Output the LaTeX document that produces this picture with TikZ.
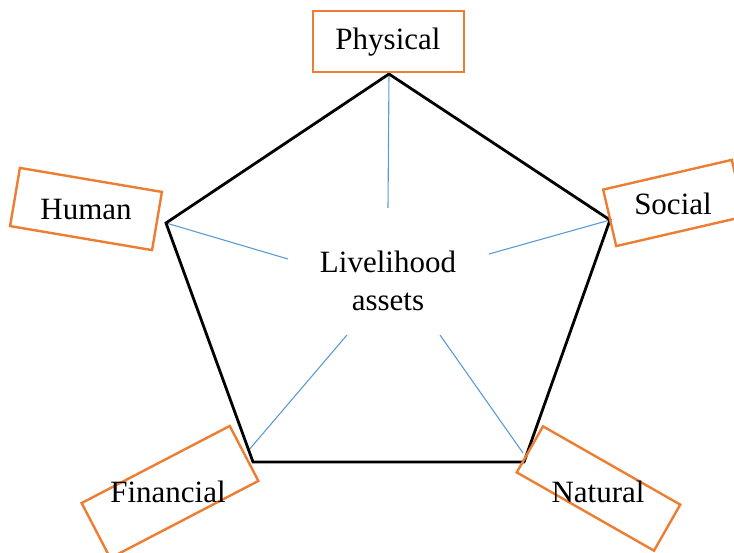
\documentclass[tikz,border=0pt]{standalone}
\usepackage{fontspec}
\setmainfont{Liberation Serif}
\definecolor{boxorange}{HTML}{ED7D31}
\definecolor{spokeblue}{HTML}{5B9BD5}
\tikzset{
  assetbox/.style={draw=boxorange,line width=2.4pt,inner sep=0pt},
  assettext/.style={font=\fontsize{31}{38}\selectfont,inner sep=0pt},
  spoke/.style={spokeblue,line width=1.1pt},
  pentagon/.style={black,line width=2.8pt,line join=miter}
}
\begin{document}
\begin{tikzpicture}[x=1pt,y=-1pt]
  \useasboundingbox (0,0) rectangle (734,553);
  % corners of the pentagon
  \coordinate (top) at (389,74);
  \coordinate (right) at (610,220);
  \coordinate (lowright) at (524,462);
  \coordinate (lowleft) at (253,462);
  \coordinate (left) at (166,223);
  % spokes towards the centre
  \coordinate (topin) at (388,208);
  \coordinate (rightin) at (489,254);
  \coordinate (lowrightout) at (523,453);
  \coordinate (lowrightin) at (440,335);
  \coordinate (lowleftout) at (248,451);
  \coordinate (lowleftin) at (347,335);
  \coordinate (leftin) at (288,259);
  \draw [spoke] (top) -- (topin);
  \draw [spoke] (right) -- (rightin);
  \draw [spoke] (lowrightout) -- (lowrightin);
  \draw [spoke] (lowleftout) -- (lowleftin);
  \draw [spoke] (left) -- (leftin);
  \draw [pentagon] (top) -- (right) -- (lowright) -- (lowleft) -- (left) -- cycle;
  % boxes round the asset names
  \node [assetbox,minimum width=151pt,minimum height=61pt] (physbox) at (388.5,41.5) {};
  \node [assetbox,minimum width=144pt,minimum height=59pt,rotate=-9.6] (humanbox) at (86,209) {};
  \node [assetbox,minimum width=132pt,minimum height=58pt,rotate=13] (socialbox) at (674,203) {};
  \node [assetbox,minimum width=167pt,minimum height=62pt,rotate=27.5] (finbox) at (170,492) {};
  \node [assetbox,minimum width=158pt,minimum height=53pt,rotate=-29.7] (natbox) at (598.5,488.5) {};
  % names
  \node [assettext] (phys) at (388,42) {Physical};
  \node [assettext] (human) at (86,210) {Human};
  \node [assettext] (social) at (673,204) {Social};
  \node [assettext] (fin) at (168,492) {Financial};
  \node [assettext] (nat) at (598,492) {Natural};
  \node [assettext,align=center] (centre) at (388,281) {Livelihood\\assets};
\end{tikzpicture}
\end{document}
